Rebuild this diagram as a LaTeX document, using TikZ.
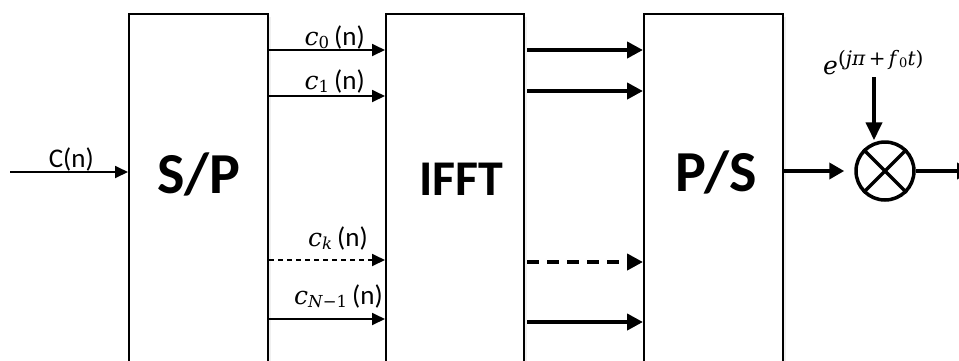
\documentclass[tikz,border=0pt]{standalone}
\usepackage{fontspec}
\setmainfont{Carlito}
\newfontfamily\mf{DejaVu Serif}
\newcommand\symb[2]{{\mf\itshape #1}\raisebox{-3.5pt}{\fontsize{16.5}{16.5}\selectfont\mf #2}}
\usetikzlibrary{arrows.meta,shadows}
\begin{document}
\begin{tikzpicture}[x=1pt,y=-1pt,
  blockbox/.style={draw=black,line width=2pt,fill=white,rectangle,inner sep=0pt,
    drop shadow={opacity=0.12,shadow xshift=2.5pt,shadow yshift=-2.5pt}},
  thinarrow/.style={line width=1.8pt,-{Triangle[length=13pt,width=12pt]}},
  thickarrow/.style={line width=4.5pt,-{Triangle[length=16pt,width=16pt]}},
  blocktext/.style={font=\fontsize{58}{60}\selectfont\bfseries,inner sep=0pt},
  sigtext/.style={font=\fontsize{27}{30}\selectfont,inner sep=0pt,anchor=base east}]
\useasboundingbox (0,0) rectangle (959,360);
\clip (0,0) rectangle (959,360);
% blocks
\node[blockbox,minimum width=139pt,minimum height=400pt,anchor=north west] (SP) at (128,13) {};
\node[blockbox,minimum width=138pt,minimum height=400pt,anchor=north west] (IFFT) at (385,13) {};
\node[blockbox,minimum width=139pt,minimum height=400pt,anchor=north west] (PS) at (643,13) {};
\node[blocktext] (tSP) at (199,174) {S/P};
\node[blocktext,font=\fontsize{50}{52}\selectfont\bfseries] (tIFFT) at (461,179) {IFFT};
\node[blocktext] (tPS) at (716,172) {P/S};
% input
\coordinate (in) at (10,172);
\draw[thinarrow] (in) -- (SP.west |- in);
\node[sigtext] (lC) at (94,167) {C(n)};
% S/P -> IFFT
\draw[thinarrow] (SP.east |- 0,50) -- (IFFT.west |- 0,50);
\draw[thinarrow] (SP.east |- 0,96) -- (IFFT.west |- 0,96);
\draw[thinarrow,dash pattern=on 5pt off 4pt] (SP.east |- 0,260) -- (IFFT.west |- 0,260);
\draw[thinarrow] (SP.east |- 0,319) -- (IFFT.west |- 0,319);
\node[sigtext] (l0) at (365,45) {{\fontsize{25}{28}\selectfont\symb{c}{0}}\kern5pt(n)};
\node[sigtext] (l1) at (365,89) {{\fontsize{25}{28}\selectfont\symb{c}{1}}\kern5pt(n)};
\node[sigtext] (lk) at (368,246) {{\fontsize{25}{28}\selectfont\symb{c}{\itshape k}}\kern5pt(n)};
\node[sigtext] (lN) at (383,304) {{\fontsize{25}{28}\selectfont\symb{c}{\textit{N}−1}}\kern5pt(n)};
% IFFT -> P/S
\draw[thickarrow] ([xshift=2pt]IFFT.east |- 0,50) -- (PS.west |- 0,50);
\draw[thickarrow] ([xshift=2pt]IFFT.east |- 0,91) -- (PS.west |- 0,91);
\draw[thickarrow,dash pattern=on 12pt off 8pt] ([xshift=2pt]IFFT.east |- 0,262) -- (PS.west |- 0,262);
\draw[thickarrow] ([xshift=2pt]IFFT.east |- 0,322) -- (PS.west |- 0,322);
% mixer
\node[circle,draw,line width=3.5pt,minimum size=58pt,inner sep=0pt] (mult) at (885,171) {};
\draw[line width=3.5pt] (mult.45) -- (mult.225) (mult.135) -- (mult.315);
\draw[line width=4pt,-{Triangle[length=15pt,width=16pt]}] (PS.east |- mult) -- ([xshift=-10pt]mult.west);
\coordinate (carrier) at (874,77);
\draw[line width=4pt,-{Triangle[length=18pt,width=16pt]}] (carrier) -- (carrier |- mult.north);
\node[inner sep=0pt,anchor=base west] (lexp) at (823,74)
  {\fontsize{25}{28}\selectfont{\mf\itshape e}\raisebox{9pt}{\fontsize{20}{20}\selectfont\mf(\textit{jπ}\,+\,\textit{f}\raisebox{-2pt}{\fontsize{13}{13}\selectfont 0}\textit{t})}};
\coordinate (out) at (972,171);
\draw[line width=4pt,-{Triangle[length=15pt,width=16pt]}] (mult.east) -- (out);
\end{tikzpicture}
\end{document}
